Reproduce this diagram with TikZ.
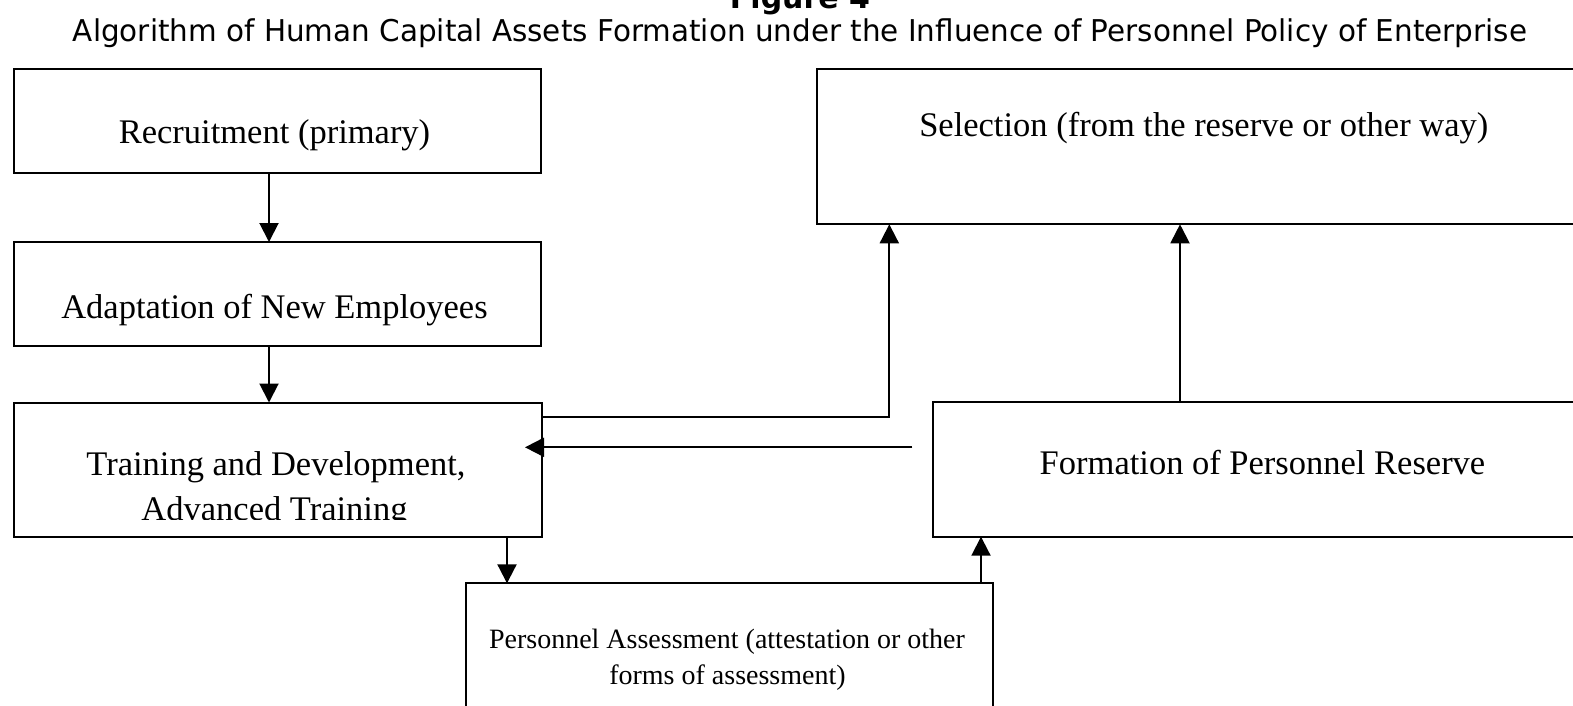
\documentclass[tikz,border=0pt]{standalone}
\usepackage{fontspec}
\setmainfont{Liberation Serif}
\newfontfamily\headfont{DejaVu Sans}
\usetikzlibrary{arrows.meta}

\begin{document}
\begin{tikzpicture}[x=1pt,y=-1pt,
  box/.style={draw,line width=2pt,rectangle,inner sep=0pt,outer sep=0pt},
  lbl/.style={anchor=base,inner sep=0pt,font=\fontsize{34.5}{40}\selectfont},
  small/.style={anchor=base,inner sep=0pt,font=\fontsize{28}{32}\selectfont},
  arr/.style={line width=2pt,-{Triangle[length=19pt,width=19pt]}}]
  \useasboundingbox (0,0) rectangle (1573,705);
  \clip (0,0) rectangle (1573,705);

  % heading
  \node[anchor=base,inner sep=0pt,font=\headfont\bfseries\fontsize{30}{34}\selectfont] (ttl) at (800,8) {Figure 4};
  \node[anchor=base,inner sep=0pt,font=\headfont\fontsize{30}{34}\selectfont] (sub) at (800,41)
    {\resizebox{1454pt}{\height}{Algorithm of Human Capital Assets Formation under the Influence of Personnel Policy of Enterprise}};

  % boxes
  \node[box,minimum width=527pt,minimum height=104pt] (rec) at (277.5,121) {};
  \node[box,minimum width=527pt,minimum height=103.5pt] (adp) at (277.5,293.75) {};
  \node[box,minimum width=527.5pt,minimum height=134.2pt] (trn) at (277.75,469.6) {};
  \node[box,minimum width=774.5pt,minimum height=155.3pt] (sel) at (1203.75,146.65) {};
  \node[box,minimum width=657.7pt,minimum height=134.4pt] (frm) at (1262.2,469.5) {};
  \node[box,minimum width=527.3pt,minimum height=176.7pt] (asm) at (729.65,671.65) {};

  % box texts
  \node[lbl] (rec-t) at (274.5,143.5) {Recruitment (primary)};
  \node[lbl] (adp-t) at (274.5,318) {Adaptation of New Employees};
  \node[lbl] (trn-t1) at (276,475.5) {Training and Development,};
  \begin{scope}
    \clip (0,0) rectangle (1573,519.5);
    \node[lbl] (trn-t2) at (274.5,520.5) {Advanced Training};
  \end{scope}
  \node[lbl] (sel-t) at (1203.75,136) {Selection (from the reserve or other way)};
  \node[lbl] (frm-t) at (1262.5,474) {Formation of Personnel Reserve};
  \node[small] (asm-t1) at (727,648) {Personnel Assessment (attestation or other};
  \node[small] (asm-t2) at (727.5,684) {forms of assessment)};

  % connectors
  \draw[arr] ([xshift=-8.5pt]rec.south) -- ([xshift=-8.5pt]adp.north);
  \draw[arr] ([xshift=-8.5pt]adp.south) -- ([xshift=-8.75pt]trn.north);
  \draw[arr] ([xshift=229.25pt]trn.south) -- ([xshift=-222.65pt]asm.north);
  \draw[arr] ([xshift=251.35pt]asm.north) -- ([xshift=-281.2pt]frm.south);
  \draw[arr] ([xshift=-82.2pt]frm.north) -- ([xshift=-23.75pt]sel.south);
  \draw[arr] ([yshift=52.3pt]trn.east) -| ([xshift=-314.45pt]sel.south);
  \draw[arr] ([xshift=-21pt,yshift=22.2pt]frm.west) -- ([xshift=-16.5pt,yshift=22.3pt]trn.east);
\end{tikzpicture}
\end{document}
